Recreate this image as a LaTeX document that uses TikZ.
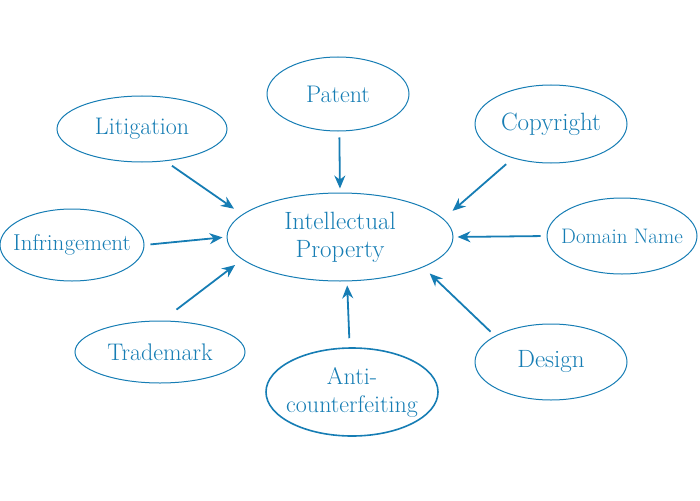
\documentclass[tikz,border=0pt]{standalone}
\usetikzlibrary{shapes.geometric,arrows.meta}
\definecolor{ipblue}{RGB}{22,125,180}
\begin{document}
\begin{tikzpicture}[x=1pt,y=-1pt,
  bubble/.style={ellipse, draw=ipblue, line width=1pt, inner sep=0pt},
  tag/.style={text=ipblue, align=center, font=\fontsize{#1}{28}\selectfont},
  feed/.style={-{Stealth[length=13pt,width=11pt]}, ipblue, line width=1.8pt, shorten <=6pt, shorten >=4pt}]
  \useasboundingbox (0,0) rectangle (700,500);

  % Centre
  \node[bubble, minimum width=226pt, minimum height=88pt, label={[tag=25]center:Intellectual\\Property}] (ip) at (340,237) {};

  % Surrounding topics
  \node[bubble, minimum width=142pt, minimum height=74pt, label={[tag=24]center:Patent}] (pat) at (338,94) {};
  \node[bubble, minimum width=170pt, minimum height=66pt, label={[tag=24]center:Litigation}] (lit) at (142,129) {};
  \node[bubble, minimum width=152pt, minimum height=78pt, label={[tag=25]center:Copyright}] (copy) at (551,124) {};
  \node[bubble, minimum width=144pt, minimum height=72pt, label={[tag=23]center:Infringement}] (infr) at (72,245) {};
  \node[bubble, minimum width=150pt, minimum height=76pt, label={[tag=21]center:Domain Name}] (dom) at (622,236) {};
  \node[bubble, minimum width=170pt, minimum height=62pt, label={[tag=24]center:Trademark}] (tm) at (160,352) {};
  \node[bubble, minimum width=172pt, minimum height=88pt, line width=1.6pt, label={[tag=24]center:Anti-\\counterfeiting}] (anti) at (352,392) {};
  \node[bubble, minimum width=152pt, minimum height=76pt, label={[tag=25]center:Design}] (des) at (551,362) {};

  % Arrows into the centre
  \draw[feed] (pat.272) -- (ip.90);
  \draw[feed, shorten <=8pt, shorten >=10pt] (lit.306) -- (ip.167);
  \draw[feed, shorten <=9pt, shorten >=12pt] (copy.222) -- (ip.10);
  \draw[feed] (infr.0) -- (ip.180);
  \draw[feed] (dom.180) -- (ip.0);
  \draw[feed, shorten <=18pt, shorten >=9pt] (tm.86) -- (ip.193);
  \draw[feed, shorten <=9pt] (anti.93) -- (ip.279);
  \draw[feed, shorten >=9pt] (des.155) -- (ip.340);
\end{tikzpicture}
\end{document}
